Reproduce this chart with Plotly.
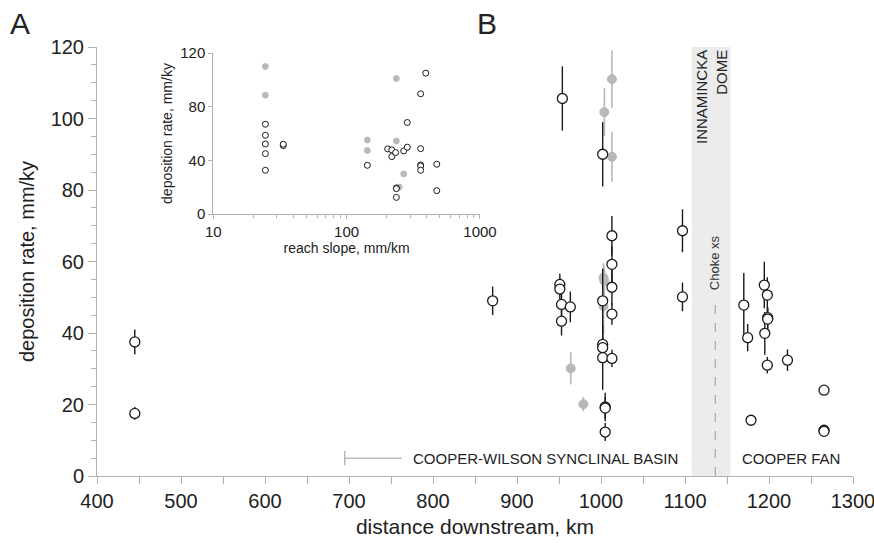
import plotly.graph_objects as go

# ---------------- Main panel data ----------------
# open (black) samples: distance downstream (km), deposition rate (mm/ky), error (mm/ky)
blk_dist = [445, 445, 871, 954, 1002, 1013, 1013, 1013, 1013, 951, 951, 953, 953, 963.5,
            1002, 1002, 1002, 1002, 1013, 1005, 1005, 1005, 1097, 1097,
            1170, 1174.6, 1194.4, 1198, 1198.4, 1198.4, 1195, 1198, 1222, 1178.6,
            1265.5, 1265.5, 1265.5]
blk_rate = [37.5, 17.5, 49, 105.6, 90, 67.2, 59.2, 52.8, 45.3, 53.6, 52.3, 48, 43.3, 47.3,
            49, 36.8, 35.9, 33.1, 32.9, 19.3, 19.0, 12.3, 68.6, 50.1,
            47.8, 38.7, 53.4, 50.6, 44.3, 43.9, 39.9, 31.0, 32.4, 15.6,
            24.0, 12.8, 12.5]
blk_err = [3.5, 1.8, 4, 9, 9, 5.5, 5, 5, 3, 3, 3, 4, 4, 4.3,
           9, 3, 3, 9, 2.4, 4, 3, 2.5, 6, 4,
           9, 3.8, 6.5, 5, 3, 3, 6, 2.3, 3, 1.4,
           0, 0, 0]

# filled (grey) samples
grey_dist = [1013, 1004, 1013, 1003, 1004, 1003, 964, 979]
grey_rate = [111, 101.8, 89.3, 55.5, 54.5, 47.5, 30.1, 20.1]
grey_err = [8, 6.7, 7, 4, 4, 8, 4.5, 2]

# ---------------- Inset data ----------------
slope_blk = [24.6, 24.6, 24.6, 24.6, 24.6, 33.5, 33.5, 143, 203, 218, 218, 233, 268, 285, 285,
             236, 236, 236, 359, 392, 359, 359, 359, 359, 474, 474]
rate_blk_inset = [66.9, 58.7, 52.2, 45.0, 32.6, 51, 52, 36.3, 48.5, 47.8, 42.8, 45.8, 47.0, 49.8, 68.2,
                  19.4, 18.9, 12.4, 89.6, 105, 48.7, 36.6, 35.8, 32.6, 37.1, 17.4]
slope_grey = [24.6, 24.6, 143, 143, 236, 236, 268, 248]
rate_grey_inset = [110, 88.6, 55.2, 47.3, 54.5, 101, 29.9, 20.1]

# regions
dome_range = [1108, 1154]
choke_xs = 1136

FONT = "Liberation Sans, Arial, sans-serif"
TXT = "#222222"
AX = "#b0b0b0"
GREY = "#b8b8b8"
BLACK = "#1a1a1a"

fig = go.Figure()

# main traces
fig.add_trace(go.Scatter(
    x=grey_dist, y=grey_rate, mode="markers",
    marker=dict(symbol="circle", size=9, color=GREY, line=dict(color=GREY, width=1)),
    error_y=dict(type="data", array=grey_err, symmetric=True, color=GREY, thickness=1.6, width=0),
    xaxis="x", yaxis="y", cliponaxis=False))
fig.add_trace(go.Scatter(
    x=blk_dist, y=blk_rate, mode="markers",
    marker=dict(symbol="circle", size=10, color="white", line=dict(color=BLACK, width=1.3)),
    error_y=dict(type="data", array=blk_err, symmetric=True, color=BLACK, thickness=1.4, width=0),
    xaxis="x", yaxis="y", cliponaxis=False))

# inset traces
fig.add_trace(go.Scatter(
    x=slope_grey, y=rate_grey_inset, mode="markers",
    marker=dict(symbol="circle", size=6, color=GREY, line=dict(color=GREY, width=0.8)),
    xaxis="x2", yaxis="y2"))
fig.add_trace(go.Scatter(
    x=slope_blk, y=rate_blk_inset, mode="markers",
    marker=dict(symbol="circle", size=6, color="white", line=dict(color=BLACK, width=1)),
    xaxis="x2", yaxis="y2"))

shapes = [
    dict(type="rect", xref="x", yref="y", x0=dome_range[0], x1=dome_range[1], y0=0, y1=120,
         fillcolor="#ececec", line=dict(width=0), layer="below"),
    dict(type="line", xref="x", yref="y", x0=choke_xs, x1=choke_xs, y0=0, y1=50,
         line=dict(color="#999999", width=1, dash="dash")),
    dict(type="line", xref="x", yref="y", x0=695, x1=763, y0=5, y1=5,
         line=dict(color="#999999", width=1)),
    dict(type="line", xref="x", yref="y", x0=695, x1=695, y0=3, y1=7,
         line=dict(color="#999999", width=1)),
]

annotations = [
    dict(text="COOPER-WILSON SYNCLINAL BASIN", x=774, y=5, xref="x", yref="y",
         xanchor="left", yanchor="middle", showarrow=False, font=dict(size=15, color=TXT, family=FONT)),
    dict(text="COOPER FAN", x=1165, y=5, xref="x", yref="y",
         xanchor="left", yanchor="middle", showarrow=False, font=dict(size=15, color=TXT, family=FONT)),
    dict(text="INNAMINCKA<br>DOME", x=sum(dome_range) / 2, y=120, xref="x", yref="y",
         xanchor="center", yanchor="top", yshift=-1, textangle=-90, align="right", showarrow=False,
         font=dict(size=15, color=TXT, family=FONT)),
    dict(text="Choke xs", x=choke_xs, y=59.6, xref="x", yref="y",
         xanchor="center", yanchor="middle", textangle=-90, showarrow=False,
         font=dict(size=13, color="#333333", family=FONT)),
    dict(text="A", x=-0.118, y=1.055, xref="paper", yref="paper", xanchor="left", yanchor="middle",
         showarrow=False, font=dict(size=30, color=TXT, family=FONT)),
    dict(text="B", x=0.50, y=1.055, xref="paper", yref="paper", xanchor="left", yanchor="middle",
         showarrow=False, font=dict(size=30, color=TXT, family=FONT)),
]

fig.update_layout(
    width=874, height=543,
    margin=dict(l=97, r=21, t=47, b=67),
    paper_bgcolor="white", plot_bgcolor="white",
    showlegend=False,
    font=dict(family=FONT, color=TXT),
    shapes=shapes, annotations=annotations,
    xaxis=dict(
        range=[400, 1300], tickvals=list(range(400, 1301, 100)), automargin=False,
        ticklabeloverflow="allow",
        ticks="outside", ticklen=7, tickcolor=AX, tickwidth=1,
        minor=dict(tickvals=list(range(450, 1300, 100)), ticks="outside", ticklen=7, tickcolor=AX, showgrid=False),
        showline=True, linecolor=AX, linewidth=1, showgrid=False, zeroline=False,
        tickfont=dict(size=20, color=TXT),
        title=dict(text="distance downstream, km", font=dict(size=21, color=TXT), standoff=8),
        domain=[0, 1], anchor="y"),
    yaxis=dict(
        range=[0, 120], tickvals=list(range(0, 121, 20)), automargin=False,
        ticks="outside", ticklen=8, tickcolor=AX, tickwidth=1,
        minor=dict(dtick=5, ticks="outside", ticklen=5, tickcolor=AX, showgrid=False),
        showline=True, linecolor=AX, linewidth=1, showgrid=False, zeroline=False,
        tickfont=dict(size=20, color=TXT),
        title=dict(text="deposition rate, mm/ky", font=dict(size=20, color=TXT), standoff=10),
        domain=[0, 1], anchor="x"),
    xaxis2=dict(
        type="log", range=[1, 3], tickvals=[10, 100, 1000], ticktext=["10", "100", "1000"],
        automargin=False,
        ticks="outside", ticklen=4, tickcolor=AX,
        minor=dict(dtick="D1", ticks="outside", ticklen=3, tickcolor=AX, showgrid=False),
        showline=True, linecolor=AX, linewidth=1, showgrid=False, zeroline=False,
        tickfont=dict(size=15, color=TXT),
        title=dict(text="reach slope, mm/km", font=dict(size=14, color=TXT), standoff=2),
        domain=[0.1538, 0.5066], anchor="y2"),
    yaxis2=dict(
        range=[0, 120], tickvals=[0, 40, 80, 120], automargin=False,
        ticks="outside", ticklen=4, tickcolor=AX,
        showline=True, linecolor=AX, linewidth=1, showgrid=False, zeroline=False,
        tickfont=dict(size=15, color=TXT),
        title=dict(text="deposition rate, mm/ky", font=dict(size=14, color=TXT), standoff=4),
        domain=[0.6107, 0.986], anchor="x2"),
)

fig.write_html("out.html", config={"displayModeBar": False},
               post_script="document.body.style.margin='0px';document.body.style.overflow='hidden';")
